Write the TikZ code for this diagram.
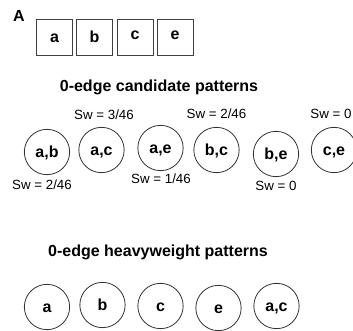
\documentclass[tikz,border=0pt]{standalone}
\usepackage{fontspec}
\setmainfont{Liberation Sans}
\begin{document}
\begin{tikzpicture}[x=0.75pt,y=-0.75pt,
  cell/.style={draw=black!75,line width=0.6pt,minimum width=27pt,minimum height=27pt,inner sep=0pt,
    font=\fontsize{12}{14}\selectfont\bfseries,text height=8.5pt,text depth=0pt},
  pat/.style={circle,draw=black!80,line width=0.6pt,minimum size=34pt,inner sep=0pt,
    font=\fontsize{12}{14}\selectfont\bfseries,text height=8.5pt,text depth=0pt},
  ttl/.style={font=\fontsize{12}{14}\selectfont\bfseries,inner sep=0pt},
  sw/.style={font=\fontsize{10}{12}\selectfont,inner sep=0pt}]
\useasboundingbox (0,0) rectangle (353,331);
\node[ttl] (lblA) at (19,16) {A};
\node[cell] (ca) at (54.5,37) {a};
\node[cell] (cb) at (94.5,37) {b};
\node[cell] (cc) at (135,37) {\raisebox{2pt}{c}};
\node[cell] (ce) at (175,37) {\raisebox{2pt}{e}};

\node[ttl] (t1) at (159,87) {0-edge candidate patterns};
\node[pat] (ab) at (47,152) {a,b};
\node[pat] (ac) at (101.5,150) {a,c};
\node[pat] (ae) at (160.5,148) {a,e};
\node[pat] (bc) at (216.5,150) {b,c};
\node[pat] (be) at (276,154) {b,e};
\node[pat] (ce2) at (334,150) {c,e};
\node[sw] (s1) at (42,185) {Sw = 2/46};
\node[sw] (s2) at (104,115) {Sw = 3/46};
\node[sw] (s3) at (161,179) {Sw = 1/46};
\node[sw] (s4) at (216.5,114) {Sw = 2/46};
\node[sw] (s5) at (276,186) {Sw = 0};
\node[sw] (s6) at (331,114) {Sw = 0};

\node[ttl] (t2) at (158,252) {0-edge heavyweight patterns};
\node[pat] (ha) at (47,307) {a};
\node[pat] (hb) at (102.5,305) {b};
\node[pat] (hc) at (160.5,306) {c};
\node[pat] (he) at (218.5,308) {e};
\node[pat] (hac) at (276.5,306) {a,c};
\end{tikzpicture}
\end{document}
